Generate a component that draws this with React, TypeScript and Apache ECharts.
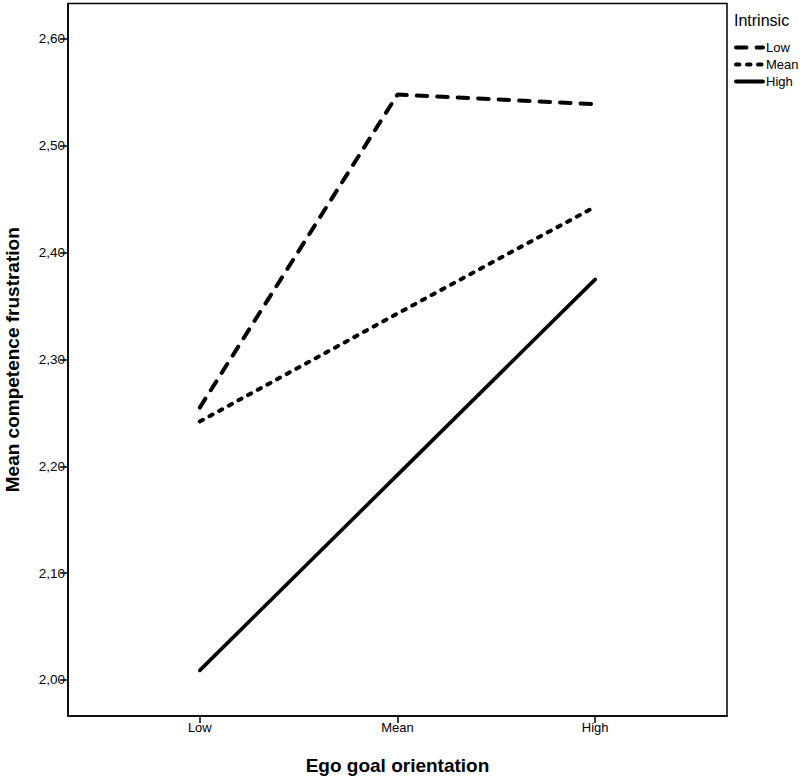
import React, { useEffect, useRef } from "react";
import * as echarts from "echarts";

const categories = ["Low", "Mean", "High"];
const seriesNames = ["Low", "Mean", "High"];
const lowIntrinsic = [2.255, 2.548, 2.539];
const meanIntrinsic = [2.242, 2.343, 2.443];
const highIntrinsic = [2.009, 2.192, 2.375];
const yTickValues = [2.0, 2.1, 2.2, 2.3, 2.4, 2.5, 2.6];
const xTickValues = [0, 1, 2];

const FONT = "'Liberation Sans', Arial, Helvetica, sans-serif";

export default function App() {
  const ref = useRef<HTMLDivElement>(null);
  useEffect(() => {
    if (!ref.current) return;
    const chart = echarts.init(ref.current, undefined, { renderer: "svg" });
    const toPairs = (arr: number[]) => arr.map((v, i) => [i, v]);
    const styles = [
      { width: 4, type: [10.5, 10], cap: "round" },
      { width: 4, type: [3.5, 7.5], cap: "round" },
      { width: 3.6, type: "solid", cap: "round" },
    ];
    const datasets = [lowIntrinsic, meanIntrinsic, highIntrinsic];
    chart.setOption({
      animation: false,
      backgroundColor: "#fff",
      textStyle: { fontFamily: FONT, color: "#000" },
      title: {
        text: "Intrinsic",
        left: 734,
        top: 12,
        padding: 0,
        textStyle: { fontFamily: FONT, fontSize: 16, fontWeight: "normal", color: "#000" },
      },
      legend: {
        orient: "vertical",
        left: 734,
        top: 41,
        padding: 0,
        itemWidth: 27,
        itemHeight: 12,
        itemGap: 4,
        data: seriesNames,
        itemStyle: { opacity: 0, borderWidth: 0 },
        lineStyle: { width: 4, cap: "round" },
        textStyle: { fontFamily: FONT, fontSize: 13, color: "#000", padding: [0, 0, 0, -2] },
      },
      grid: {
        left: 68,
        right: 73,
        top: 3.5,
        bottom: 62,
        containLabel: false,
        outerBoundsMode: "none",
        show: true,
        borderColor: "#000",
        borderWidth: 1.5,
        backgroundColor: "transparent",
      },
      xAxis: {
        type: "value",
        min: -2 / 3,
        max: 2 + 2 / 3,
        name: "Ego goal orientation",
        nameLocation: "middle",
        nameGap: 40,
        nameTextStyle: { fontFamily: FONT, fontSize: 19, fontWeight: "bold", color: "#000" },
        axisLine: { show: true, onZero: false, lineStyle: { color: "#000", width: 1.5 } },
        axisTick: { show: true, length: 7, customValues: xTickValues, lineStyle: { color: "#000", width: 1.5 } },
        axisLabel: {
          customValues: xTickValues,
          margin: 5,
          fontFamily: FONT,
          fontSize: 13,
          color: "#000",
          formatter: (v: number) => categories[Math.round(v)] ?? "",
        },
        splitLine: { show: false },
      },
      yAxis: {
        type: "value",
        min: 1.9663,
        max: 2.6332,
        name: "Mean competence frustration",
        nameLocation: "middle",
        nameGap: 46,
        nameTextStyle: { fontFamily: FONT, fontSize: 19, fontWeight: "bold", color: "#000" },
        axisLine: { show: true, onZero: false, lineStyle: { color: "#000", width: 1.5 } },
        axisTick: { show: true, length: 8, customValues: yTickValues, lineStyle: { color: "#000", width: 1.5 } },
        axisLabel: {
          customValues: yTickValues,
          margin: 3,
          fontFamily: FONT,
          fontSize: 13.5,
          color: "#000",
          formatter: (v: number) => v.toFixed(2).replace(".", ","),
        },
        splitLine: { show: false },
      },
      series: datasets.map((d, i) => ({
        name: seriesNames[i],
        type: "line",
        data: toPairs(d),
        symbol: "none",
        showSymbol: false,
        lineStyle: { color: "#000", ...styles[i] },
        itemStyle: { color: "#000" },
      })),
    });
    return () => chart.dispose();
  }, []);
  return (
    <div
      ref={ref}
      style={{ position: "fixed", left: 0, top: 0, width: 800, height: 778, background: "#fff" }}
    />
  );
}
